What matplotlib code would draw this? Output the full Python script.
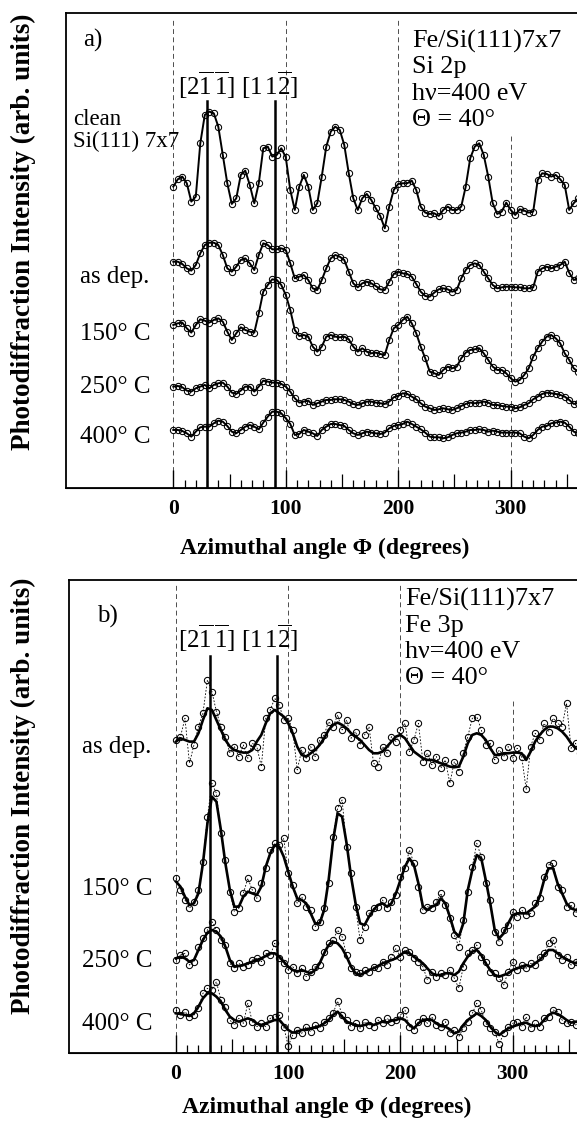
import numpy as np
import matplotlib.pyplot as plt

plt.rcParams['font.family'] = ['Liberation Serif', 'DejaVu Serif']
plt.rcParams['mathtext.fontset'] = 'custom'
plt.rcParams['mathtext.rm'] = 'Liberation Serif'
plt.rcParams['mathtext.it'] = 'Liberation Serif:italic'
plt.rcParams['mathtext.bf'] = 'Liberation Serif:bold'

# azimuthal angle (degrees), one reading every 4 degrees
phi = np.arange(0, 361, 4)

# ---- panel a: Si 2p intensities (arb. units) ----
si_clean = [180, 202, 210, 190, 135, 150, 310, 395, 405, 400,
            360, 275, 190, 128, 145, 215, 228, 185, 130, 190,
            295, 300, 270, 275, 295, 268, 170, 110, 180, 215,
            180, 110, 130, 210, 300, 345, 360, 350, 305, 220,
            145, 110, 145, 158, 140, 115, 92, 55, 120, 170,
            188, 190, 190, 198, 170, 120, 102, 98, 100, 92,
            110, 120, 110, 110, 120, 180, 265, 300, 310, 275,
            210, 130, 98, 105, 132, 110, 95, 112, 108, 102,
            105, 200, 220, 218, 210, 215, 202, 185, 110, 130,
            145]
si_asdep = [115, 115, 108, 95, 88, 105, 140, 165, 172, 172,
            165, 135, 95, 85, 100, 120, 125, 110, 90, 135,
            170, 165, 152, 152, 155, 150, 110, 65, 70, 75,
            60, 35, 30, 60, 95, 125, 135, 130, 120, 85,
            50, 38, 50, 55, 50, 42, 32, 30, 55, 78,
            85, 80, 78, 70, 48, 25, 12, 10, 22, 32,
            35, 32, 25, 30, 65, 90, 105, 110, 105, 85,
            65, 45, 35, 38, 40, 40, 38, 38, 35, 35,
            38, 85, 95, 100, 95, 100, 105, 115, 82, 60,
            65]
si_150 = [175, 180, 182, 165, 152, 175, 192, 188, 182, 190,
          195, 185, 155, 130, 150, 168, 160, 155, 152, 210,
          275, 295, 312, 310, 295, 265, 220, 160, 142, 145,
          140, 110, 95, 110, 140, 145, 140, 138, 140, 132,
          110, 95, 105, 95, 90, 92, 88, 85, 130, 165,
          175, 190, 200, 180, 150, 110, 75, 35, 30, 25,
          40, 50, 45, 50, 75, 92, 100, 102, 105, 90,
          70, 50, 40, 40, 30, 15, 5, 10, 25, 45,
          80, 105, 125, 140, 145, 135, 120, 90, 70, 45,
          35]
si_250 = [90, 92, 88, 78, 75, 85, 90, 95, 85, 95,
          100, 102, 90, 72, 68, 78, 90, 90, 75, 90,
          108, 105, 102, 102, 98, 90, 75, 55, 42, 45,
          48, 35, 40, 45, 50, 50, 52, 52, 50, 45,
          38, 35, 40, 45, 45, 42, 40, 38, 45, 58,
          62, 70, 68, 60, 52, 40, 30, 25, 20, 22,
          25, 22, 20, 25, 32, 38, 42, 40, 42, 45,
          42, 35, 35, 32, 30, 30, 25, 28, 35, 40,
          52, 60, 68, 72, 70, 68, 65, 60, 50, 38,
          40]
si_400 = [40, 40, 37, 30, 20, 35, 48, 50, 50, 60,
          68, 65, 52, 35, 30, 40, 50, 55, 50, 42,
          62, 80, 95, 95, 90, 75, 58, 25, 28, 40,
          35, 30, 22, 40, 50, 58, 58, 55, 52, 40,
          30, 25, 30, 35, 32, 30, 28, 32, 45, 52,
          55, 58, 65, 58, 50, 42, 32, 20, 18, 18,
          15, 18, 25, 30, 32, 35, 40, 40, 42, 40,
          35, 38, 35, 32, 32, 32, 32, 30, 20, 15,
          25, 40, 50, 52, 60, 62, 65, 62, 50, 35,
          30]

# ---- panel b: Fe 3p, raw points and smoothed curves (arb. units) ----
fe_asdep_raw = [110, 120, 175, 40, 95, 150, 190, 290, 255, 195,
                150, 120, 70, 90, 60, 95, 55, 100, 90, 30,
                175, 200, 235, 215, 170, 175, 140, 20, 80, 55,
                90, 60, 110, 125, 165, 150, 185, 140, 170, 115,
                135, 95, 125, 150, 40, 30, 90, 70, 120, 105,
                140, 160, 75, 110, 160, 45, 70, 35, 60, 25,
                50, -20, 45, 15, 70, 120, 175, 180, 140, 95,
                100, 50, 80, 60, 90, 55, 85, 60, -38, 90,
                130, 110, 160, 135, 175, 160, 150, 220, 85, 100,
                70]
fe_asdep_fit = [105, 115, 110, 105, 105, 130, 170, 205, 200, 170,
                140, 110, 90, 80, 75, 72, 72, 80, 105, 125,
                160, 190, 200, 190, 180, 160, 130, 90, 65, 60,
                70, 80, 95, 115, 140, 155, 162, 155, 145, 130,
                120, 110, 95, 80, 70, 70, 75, 90, 105, 120,
                125, 115, 95, 75, 65, 55, 50, 50, 45, 40,
                35, 30, 28, 30, 60, 100, 125, 130, 125, 110,
                85, 65, 65, 70, 70, 72, 72, 70, 50, 75,
                105, 125, 140, 150, 150, 145, 135, 120, 100, 85,
                80]
fe_150_raw = [185, 150, 120, 95, 115, 150, 235, 370, 470, 440,
              320, 240, 145, 85, 95, 140, 185, 150, 125, 170,
              215, 270, 290, 285, 305, 200, 165, 110, 130, 100,
              90, 40, 55, 95, 170, 310, 395, 420, 280, 200,
              100, 0, 40, 80, 95, 100, 120, 95, 115, 135,
              190, 215, 270, 230, 160, 90, 100, 95, 115, 140,
              105, 65, 15, -20, 60, 145, 220, 290, 250, 170,
              120, 25, -5, 30, 45, 85, 70, 90, 75, 80,
              110, 125, 190, 225, 230, 160, 150, 100, 105, 80,
              100]
fe_150_fit = [175, 160, 130, 105, 110, 140, 230, 350, 430, 415,
              330, 230, 150, 100, 100, 130, 145, 140, 135, 160,
              220, 260, 285, 280, 250, 205, 160, 125, 120, 110,
              80, 50, 50, 90, 180, 300, 380, 370, 290, 190,
              110, 50, 45, 70, 90, 105, 110, 100, 110, 140,
              180, 220, 245, 225, 170, 100, 90, 100, 105, 125,
              110, 70, 25, 10, 50, 150, 210, 255, 245, 180,
              110, 30, 5, 20, 50, 75, 80, 80, 80, 90,
              100, 130, 180, 215, 215, 170, 140, 110, 95, 90,
              95]
fe_250_raw = [60, 75, 80, 45, 55, 100, 125, 150, 175, 150,
              120, 105, 50, 35, 50, 40, 45, 60, 65, 55,
              80, 75, 110, 65, 50, 30, 40, 20, 35, 10,
              25, 40, 45, 85, 110, 120, 150, 130, 75, 35,
              25, 20, 30, 25, 40, 35, 55, 45, 70, 95,
              70, 90, 85, 65, 55, 40, 0, 25, 10, 20,
              15, 30, 5, -25, 40, 80, 90, 105, 70, 55,
              25, 20, 5, -15, 25, 55, 30, 45, 35, 50,
              45, 70, 80, 110, 120, 75, 60, 70, 45, 55,
              60]
fe_250_fit = [65, 70, 65, 55, 60, 90, 120, 142, 150, 145,
              130, 100, 60, 40, 42, 45, 50, 55, 60, 65,
              72, 80, 80, 70, 55, 40, 30, 25, 30, 25,
              20, 30, 50, 80, 105, 115, 110, 95, 70, 40,
              20, 15, 22, 30, 35, 42, 50, 55, 60, 65,
              75, 85, 80, 70, 60, 50, 35, 20, 15, 15,
              20, 20, 15, 25, 50, 70, 85, 90, 75, 50,
              30, 15, 10, 15, 20, 30, 35, 40, 45, 40,
              50, 60, 75, 90, 90, 80, 70, 62, 55, 50,
              52]
fe_400_raw = [90, 75, 85, 70, 75, 95, 140, 155, 150, 175,
              120, 100, 60, 45, 65, 50, 110, 55, 40, 50,
              40, 65, 70, 75, 40, -18, 15, 30, 20, 40,
              25, 45, 35, 55, 65, 80, 117, 75, 60, 40,
              50, 35, 55, 45, 40, 60, 50, 65, 55, 60,
              75, 90, 40, 30, 55, 65, 50, 70, 45, 40,
              55, 20, 30, 10, 35, 55, 80, 110, 90, 50,
              35, 25, -12, 20, 40, 50, 55, 40, 70, 35,
              50, 40, 65, 70, 90, 85, 60, 50, 55, 45,
              60]
fe_400_fit = [80, 78, 75, 72, 80, 100, 125, 140, 140, 130,
              115, 90, 70, 60, 55, 60, 65, 60, 50, 45,
              50, 55, 60, 60, 45, 30, 22, 25, 30, 32,
              35, 38, 42, 50, 60, 75, 85, 70, 55, 50,
              45, 42, 45, 50, 45, 50, 55, 52, 58, 60,
              65, 60, 45, 35, 50, 60, 62, 60, 50, 42,
              40, 32, 20, 25, 45, 60, 70, 80, 72, 60,
              40, 25, 15, 25, 35, 40, 45, 50, 52, 45,
              42, 45, 60, 75, 82, 78, 70, 60, 52, 55,
              55]

W, H = 577, 1123
fig = plt.figure(figsize=(W / 100, H / 100), dpi=100)


def px(x, y):
    return x / W, 1 - y / H


def make_panel(left, right, top, bottom, x0, pxdeg):
    ax = fig.add_axes([left / W, 1 - bottom / H, (right - left) / W, (bottom - top) / H])
    ax.set_xlim((left - x0) / pxdeg, (right - x0) / pxdeg)
    ax.set_ylim(0, bottom - top)
    ax.set_yticks([])
    ax.set_xticks([0, 100, 200, 300])
    ax.set_xticklabels(['0', '100', '200', '300'], fontweight='bold', fontsize=15.5)
    ax.set_xticks([t for t in range(10, 360, 10) if t % 50], minor=True)
    ax.tick_params(axis='x', which='major', direction='in', length=13, width=1, pad=8)
    ax.tick_params(axis='x', which='minor', direction='in', length=6, width=0.9)
    sec = ax.secondary_xaxis('bottom')
    sec.set_xticks([50, 150, 250, 350])
    sec.tick_params(direction='in', length=10, width=0.9, labelbottom=False)
    for s in ax.spines.values():
        s.set_linewidth(1.3)
    for g in [0, 100, 200]:
        ax.axvline(g, ymax=0.99, color='0.3', lw=0.7, dashes=(5, 3.5), zorder=1)
    ax.axvline(300, ymax=352 / (bottom - top), color='0.3', lw=0.7, dashes=(5, 3.5), zorder=1)
    return ax


scale = 1 / 3

# panel a
axa = make_panel(66, 578.2, 13, 488.3, 173.3, 1.1247)
for vals, off in [(si_clean, 241.7), (si_asdep, 188.3), (si_150, 105),
                  (si_250, 71.7), (si_400, 45)]:
    axa.plot(phi, off + np.array(vals) * scale, color='k', lw=1.4, marker='o',
             ms=4.5, mfc='none', mew=0.75, zorder=3)
for d in [30, 90]:
    axa.axvline(d, ymax=387 / 475.3, color='k', lw=1.8, zorder=4)

# panel b
axb = make_panel(69, 580, 580, 1053.3, 176, 1.1223)
for raw, fit, off in [(fe_asdep_raw, fe_asdep_fit, 276.7), (fe_150_raw, fe_150_fit, 113.3),
                      (fe_250_raw, fe_250_fit, 73.3), (fe_400_raw, fe_400_fit, 13.3)]:
    axb.plot(phi, off + np.array(raw) * scale, color='k', lw=0.6, ls=(0, (2, 2)),
             marker='o', ms=4.5, mfc='none', mew=0.75, zorder=3)
    axb.plot(phi, off + np.array(fit) * scale, color='k', lw=1.9, zorder=4)
for d in [30, 90]:
    axb.axvline(d, ymax=397 / 473.3, color='k', lw=1.8, zorder=4)

# texts
fs = 18
def T(x, y, s, **kw):
    kw.setdefault('fontsize', fs)
    fig.text(*px(x, y), s, va='baseline', **kw)

T(83, 47, 'a)')
T(97, 623, 'b)')
for y, s in zip([48, 73, 100, 126], ['Fe/Si(111)7x7', 'Si 2p', 'h\u03bd=400 eV', '\u0398 = 40\u00b0']):
    T(412, y, s, fontsize=18.8)
for y, s in zip([606, 632, 658, 684], ['Fe/Si(111)7x7', 'Fe 3p', 'h\u03bd=400 eV', '\u0398 = 40\u00b0']):
    T(405, y, s, fontsize=18.8)
for yb in [95, 648]:
    T(178, yb, r'$[2\overline{1}\,\overline{1}]$')
    T(241, yb, r'$[1\,1\overline{2}]$')

T(73, 125, 'clean', fontsize=16.5)
T(73, 147, 'Si(111) 7x7', fontsize=16.5)
for y, s in zip([283, 340, 393, 443], ['as dep.', '150\u00b0 C', '250\u00b0 C', '400\u00b0 C']):
    T(80, y, s)
for y, s in zip([753, 895, 967, 1030], ['as dep.', '150\u00b0 C', '250\u00b0 C', '400\u00b0 C']):
    T(82, y, s)

for yc in [232, 796]:
    fig.text(*px(23, yc), 'Photodiffraction Intensity (arb. units)', rotation=90,
             ha='center', va='center', fontweight='bold', fontsize=19.5)
for xc, yc in [(325, 548), (327, 1107)]:
    fig.text(*px(xc, yc), 'Azimuthal angle \u03a6 (degrees)', ha='center', va='center',
             fontweight='bold', fontsize=17)

fig.savefig('out.png', dpi=100)
